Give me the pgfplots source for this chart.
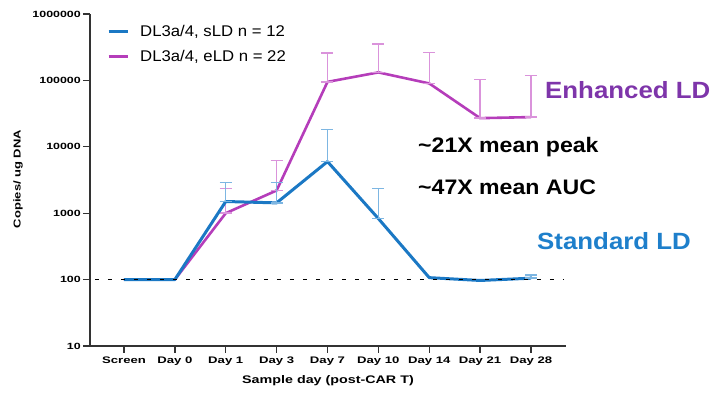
\documentclass[border=0pt]{standalone}
\usepackage{fontspec}
\setmainfont{Liberation Sans}
\newfontfamily\tickfont[FakeStretch=1.38]{Liberation Sans Bold}
\newfontfamily\labfont[FakeStretch=1.3]{Liberation Sans Bold}
\newfontfamily\legfont[FakeStretch=1.08]{Liberation Sans}
\newfontfamily\annofont[FakeStretch=1.1]{Liberation Sans Bold}
\usepackage{pgfplots}
\usepackage{pgfplotstable}
\pgfplotsset{compat=1.18}

\definecolor{sldblue}{HTML}{1B78C4}
\definecolor{sldbar}{HTML}{7DB6E2}
\definecolor{eldmag}{HTML}{B53DBA}
\definecolor{eldbar}{HTML}{DA93DB}
\definecolor{eldtext}{HTML}{7E35AA}
\definecolor{sldtext}{HTML}{1E7FCB}
\definecolor{axisgray}{HTML}{333333}

% mean copies per ug DNA by sample day (0 = Screen ... 8 = Day 28)
\pgfplotstableread{
x   y
0   100
1   100
2   1000
3   2200
4   95000
5   132000
6   90000
7   27000
8   28000
}\eldmean
\pgfplotstableread{
x   y       ep      em
2   1000    1350    0
3   2200    4000    0
4   95000   165000  0
5   132000  223000  0
6   90000   175000  0
7   27000   76000   0
8   28000   90000   0
}\elderr
\pgfplotstableread{
x   y
0   100
1   100
2   1500
3   1430
4   5990
5   830
6   107
7   97
8   105
}\sldmean
\pgfplotstableread{
x   y       ep      em
2   1500    1400    0
3   1430    1470    0
4   5990    12200   0
5   830     1520    0
8   105     12      0
}\slderr

\begin{document}
\begin{tikzpicture}[x=1pt,y=1pt]
\useasboundingbox (0,0) rectangle (716,395);
\begin{axis}[
  at={(90pt,49pt)}, anchor=south west,
  width=476pt, height=332pt, scale only axis,
  clip=false,
  xmin=-0.668, xmax=8.688,
  ymode=log, ymin=10, ymax=1000000,
  axis x line*=bottom, axis y line*=left,
  axis line style={axisgray, line width=1.8pt, -},
  xtick={0,...,8},
  xticklabels={Screen,Day 0,Day 1,Day 3,Day 7,Day 10,Day 14,Day 21,Day 28},
  ytick={10,100,1000,10000,100000,1000000},
  yticklabels={10,100,1000,10000,100000,1000000},
  yminorticks=false,
  tick align=outside,
  major tick length=7pt,
  tick style={axisgray, line width=1.3pt},
  xticklabel style={font=\tickfont\fontsize{9.5}{10}\selectfont, inner sep=0pt, yshift=-4pt},
  yticklabel style={font=\tickfont\fontsize{9}{10}\selectfont, inner sep=2pt},
  xlabel={Sample day (post-CAR T)},
  ylabel={Copies/ ug DNA},
  xlabel style={font=\labfont\fontsize{11}{12}\selectfont, at={(axis description cs:0.5,-0.105)}, anchor=center},
  ylabel style={font=\labfont\fontsize{10}{12}\selectfont, at={(axis description cs:-0.151,0.503)}, anchor=center},
  reverse legend,
  legend style={at={(rel axis cs:0.0357,0.966)}, anchor=north west, draw=none, fill=none,
    font=\legfont\fontsize{15.5}{17}\selectfont, inner sep=0pt, row sep=12pt,
    nodes={inner sep=0pt},
    /tikz/every odd column/.append style={column sep=11pt}},
  legend cell align=left,
  legend image code/.code={\draw[#1, line width=3pt] (0pt,0pt) -- (19pt,0pt);},
]
% enhanced lymphodepletion
\addplot[eldmag, line width=2.6pt, line join=round] table[x=x,y=y] {\eldmean};
\addlegendentry{DL3a/4, eLD n = 22}
\addplot[draw=none, forget plot,
  error bars/.cd, y dir=both, y explicit,
  error bar style={eldbar, line width=1.4pt},
  error mark options={eldbar, line width=1.4pt, rotate=90, mark size=6pt}]
  table[x=x, y=y, y error plus=ep, y error minus=em] {\elderr};
% standard lymphodepletion
\addplot[sldblue, line width=3pt, line join=round] table[x=x,y=y] {\sldmean};
\addlegendentry{DL3a/4, sLD n = 12}
\addplot[draw=none, forget plot,
  error bars/.cd, y dir=both, y explicit,
  error bar style={sldbar, line width=1.4pt},
  error mark options={sldbar, line width=1.4pt, rotate=90, mark size=6pt}]
  table[x=x, y=y, y error plus=ep, y error minus=em] {\slderr};
% lower limit of quantification
\addplot[black, line width=1.8pt, dash pattern=on 4.5pt off 8.5pt, forget plot]
  coordinates {(-0.57,100) (8.63,100)};
\end{axis}
\node[anchor=base west, inner sep=0pt, text=eldtext, font=\annofont\fontsize{23.5}{26}\selectfont] at (545,296) {Enhanced LD};
\node[anchor=base west, inner sep=0pt, text=black, font=\annofont\fontsize{21}{24}\selectfont] at (418,242) {\textasciitilde 21X mean peak};
\node[anchor=base west, inner sep=0pt, text=black, font=\annofont\fontsize{21}{24}\selectfont] at (418,200) {\textasciitilde 47X mean AUC};
\node[anchor=base west, inner sep=0pt, text=sldtext, font=\annofont\fontsize{23.5}{26}\selectfont] at (537,145) {Standard LD};
\end{tikzpicture}
\end{document}
